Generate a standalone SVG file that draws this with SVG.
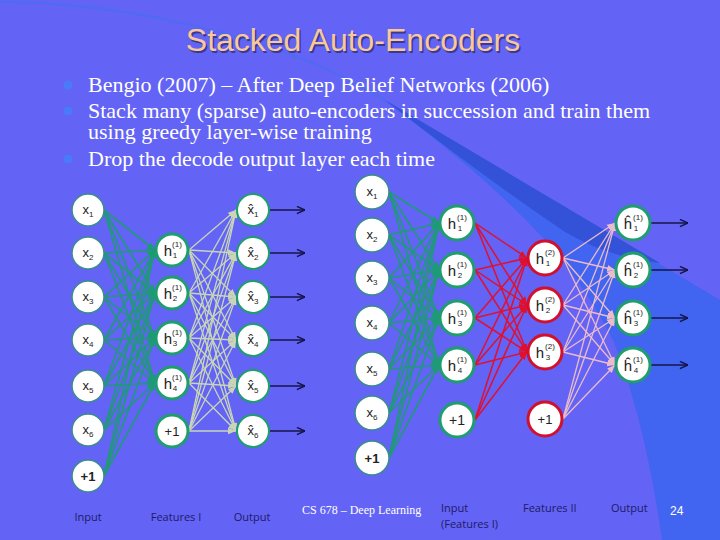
<svg xmlns="http://www.w3.org/2000/svg" width="720" height="540" viewBox="0 0 720 540">
<defs>
<style>
.n{fill:#fff}
.in{stroke:#3a8c8c;stroke-width:1.5}
.hg{stroke:#1e9e6e;stroke-width:3}
.og{stroke:#1e9e6e;stroke-width:2}
.hr{stroke:#d0102c;stroke-width:3}
.t{font-family:"Liberation Sans","Open Sans",sans-serif;fill:#222;text-anchor:middle}
.t1{font-size:13px}
.ts{font-size:8px}
.th{font-size:15px}
.eg line{stroke:#1f9a78;stroke-width:1.6;marker-end:url(#ag)}
.el line{stroke:#c9d6b6;stroke-width:1.3;marker-end:url(#al)}
.er line{stroke:#e01030;stroke-width:1.5;marker-end:url(#ar)}
.ep line{stroke:#ebbccc;stroke-width:1.3;marker-end:url(#ap)}
.eo line{stroke:#141448;stroke-width:1.6;marker-end:url(#ao)}
.bul{font-family:"Liberation Serif","Times New Roman",serif;font-size:22px;fill:#fff}
.cap{font-family:"Open Sans","Liberation Sans",sans-serif;font-size:11px;fill:#1c1c66}
</style>
<marker id="ag" viewBox="0 0 10 10" refX="10" refY="5" markerWidth="8" markerHeight="8" markerUnits="userSpaceOnUse" orient="auto"><path d="M0,1L10,5L0,9z" fill="#1f9a78"/></marker>
<marker id="al" viewBox="0 0 10 10" refX="10" refY="5" markerWidth="8" markerHeight="8" markerUnits="userSpaceOnUse" orient="auto"><path d="M0,1L10,5L0,9z" fill="#c9d6b6"/></marker>
<marker id="ar" viewBox="0 0 10 10" refX="10" refY="5" markerWidth="8" markerHeight="8" markerUnits="userSpaceOnUse" orient="auto"><path d="M0,1L10,5L0,9z" fill="#e01030"/></marker>
<marker id="ap" viewBox="0 0 10 10" refX="10" refY="5" markerWidth="8" markerHeight="8" markerUnits="userSpaceOnUse" orient="auto"><path d="M0,1L10,5L0,9z" fill="#ebbccc"/></marker>
<marker id="ao" viewBox="0 0 10 10" refX="10" refY="5" markerWidth="9" markerHeight="9" markerUnits="userSpaceOnUse" orient="auto"><path d="M1,1L10,5L1,9" fill="none" stroke="#141448" stroke-width="1.6"/></marker>
</defs>

<g id="background">
<rect width="720" height="540" fill="#6363f5"/>
<path d="M380,98 L720,300 L720,540 L662,540 Q645,420 613,340 Q585,285 545,240 Q490,180 400,112 Z" fill="#4165f0"/>
<path d="M385,100 L660,263 Q610,258 565,232 Q485,178 385,100 Z" fill="#3452d8"/>
<path d="M0,2 C120,2 280,35 385,100" fill="none" stroke="#4c6cf2" stroke-width="2"/>
</g>

<g id="title">
<text x="354.5" y="52.5" font-family="Liberation Sans, Arial, sans-serif" font-size="32" fill="#3a3a8a" text-anchor="middle">Stacked Auto-Encoders</text>
<text x="353" y="51" font-family="Liberation Sans, Arial, sans-serif" font-size="32" fill="#f8c89c" text-anchor="middle">Stacked Auto-Encoders</text>
</g>

<g id="bullets">
<circle cx="68" cy="85" r="4.5" fill="#4a7af8"/>
<circle cx="68" cy="111" r="4.5" fill="#4a7af8"/>
<circle cx="68" cy="159" r="4.5" fill="#4a7af8"/>
<text class="bul" x="88" y="92">Bengio (2007) – After Deep Belief Networks (2006)</text>
<text class="bul" x="88" y="118">Stack many (sparse) auto-encoders in succession and train them</text>
<text class="bul" x="88" y="139">using greedy layer-wise training</text>
<text class="bul" x="88" y="166">Drop the decode output layer each time</text>
</g>

<g id="connectors">
<g class="eg">
<line x1="104" y1="210" x2="155" y2="250"/><line x1="104" y1="210" x2="155" y2="293"/><line x1="104" y1="210" x2="155" y2="338"/><line x1="104" y1="210" x2="155" y2="383"/>
<line x1="104" y1="253" x2="155" y2="250"/><line x1="104" y1="253" x2="155" y2="293"/><line x1="104" y1="253" x2="155" y2="338"/><line x1="104" y1="253" x2="155" y2="383"/>
<line x1="104" y1="297" x2="155" y2="250"/><line x1="104" y1="297" x2="155" y2="293"/><line x1="104" y1="297" x2="155" y2="338"/><line x1="104" y1="297" x2="155" y2="383"/>
<line x1="104" y1="340" x2="155" y2="250"/><line x1="104" y1="340" x2="155" y2="293"/><line x1="104" y1="340" x2="155" y2="338"/><line x1="104" y1="340" x2="155" y2="383"/>
<line x1="104" y1="386" x2="155" y2="250"/><line x1="104" y1="386" x2="155" y2="293"/><line x1="104" y1="386" x2="155" y2="338"/><line x1="104" y1="386" x2="155" y2="383"/>
<line x1="104" y1="430" x2="155" y2="250"/><line x1="104" y1="430" x2="155" y2="293"/><line x1="104" y1="430" x2="155" y2="338"/><line x1="104" y1="430" x2="155" y2="383"/>
<line x1="104" y1="476" x2="155" y2="250"/><line x1="104" y1="476" x2="155" y2="293"/><line x1="104" y1="476" x2="155" y2="338"/><line x1="104" y1="476" x2="155" y2="383"/>
</g>
<g class="el">
<line x1="189" y1="250" x2="236" y2="210"/><line x1="189" y1="250" x2="236" y2="253"/><line x1="189" y1="250" x2="236" y2="297"/><line x1="189" y1="250" x2="236" y2="340"/><line x1="189" y1="250" x2="236" y2="386"/><line x1="189" y1="250" x2="236" y2="431"/>
<line x1="189" y1="293" x2="236" y2="210"/><line x1="189" y1="293" x2="236" y2="253"/><line x1="189" y1="293" x2="236" y2="297"/><line x1="189" y1="293" x2="236" y2="340"/><line x1="189" y1="293" x2="236" y2="386"/><line x1="189" y1="293" x2="236" y2="431"/>
<line x1="189" y1="338" x2="236" y2="210"/><line x1="189" y1="338" x2="236" y2="253"/><line x1="189" y1="338" x2="236" y2="297"/><line x1="189" y1="338" x2="236" y2="340"/><line x1="189" y1="338" x2="236" y2="386"/><line x1="189" y1="338" x2="236" y2="431"/>
<line x1="189" y1="383" x2="236" y2="210"/><line x1="189" y1="383" x2="236" y2="253"/><line x1="189" y1="383" x2="236" y2="297"/><line x1="189" y1="383" x2="236" y2="340"/><line x1="189" y1="383" x2="236" y2="386"/><line x1="189" y1="383" x2="236" y2="431"/>
<line x1="189" y1="431" x2="236" y2="210"/><line x1="189" y1="431" x2="236" y2="253"/><line x1="189" y1="431" x2="236" y2="297"/><line x1="189" y1="431" x2="236" y2="340"/><line x1="189" y1="431" x2="236" y2="386"/><line x1="189" y1="431" x2="236" y2="431"/>
</g>
<g class="eo">
<line x1="270" y1="210" x2="305" y2="210"/><line x1="270" y1="253" x2="305" y2="253"/><line x1="270" y1="297" x2="305" y2="297"/><line x1="270" y1="340" x2="305" y2="340"/><line x1="270" y1="386" x2="305" y2="386"/><line x1="270" y1="431" x2="305" y2="431"/>
<line x1="651" y1="223" x2="688" y2="223"/><line x1="651" y1="270" x2="688" y2="270"/><line x1="651" y1="318" x2="688" y2="318"/><line x1="651" y1="365" x2="688" y2="365"/>
</g>
<g class="eg">
<line x1="389" y1="192" x2="439" y2="223"/><line x1="389" y1="192" x2="439" y2="270"/><line x1="389" y1="192" x2="439" y2="318"/><line x1="389" y1="192" x2="439" y2="365"/>
<line x1="389" y1="235" x2="439" y2="223"/><line x1="389" y1="235" x2="439" y2="270"/><line x1="389" y1="235" x2="439" y2="318"/><line x1="389" y1="235" x2="439" y2="365"/>
<line x1="389" y1="278" x2="439" y2="223"/><line x1="389" y1="278" x2="439" y2="270"/><line x1="389" y1="278" x2="439" y2="318"/><line x1="389" y1="278" x2="439" y2="365"/>
<line x1="389" y1="323" x2="439" y2="223"/><line x1="389" y1="323" x2="439" y2="270"/><line x1="389" y1="323" x2="439" y2="318"/><line x1="389" y1="323" x2="439" y2="365"/>
<line x1="389" y1="369" x2="439" y2="223"/><line x1="389" y1="369" x2="439" y2="270"/><line x1="389" y1="369" x2="439" y2="318"/><line x1="389" y1="369" x2="439" y2="365"/>
<line x1="389" y1="413" x2="439" y2="223"/><line x1="389" y1="413" x2="439" y2="270"/><line x1="389" y1="413" x2="439" y2="318"/><line x1="389" y1="413" x2="439" y2="365"/>
<line x1="389" y1="458" x2="439" y2="223"/><line x1="389" y1="458" x2="439" y2="270"/><line x1="389" y1="458" x2="439" y2="318"/><line x1="389" y1="458" x2="439" y2="365"/>
</g>
<g class="er">
<line x1="475" y1="223" x2="527" y2="258"/><line x1="475" y1="223" x2="527" y2="305"/><line x1="475" y1="223" x2="527" y2="352"/>
<line x1="475" y1="270" x2="527" y2="258"/><line x1="475" y1="270" x2="527" y2="305"/><line x1="475" y1="270" x2="527" y2="352"/>
<line x1="475" y1="318" x2="527" y2="258"/><line x1="475" y1="318" x2="527" y2="305"/><line x1="475" y1="318" x2="527" y2="352"/>
<line x1="475" y1="365" x2="527" y2="258"/><line x1="475" y1="365" x2="527" y2="305"/><line x1="475" y1="365" x2="527" y2="352"/>
<line x1="475" y1="420" x2="527" y2="258"/><line x1="475" y1="420" x2="527" y2="305"/><line x1="475" y1="420" x2="527" y2="352"/>
</g>
<g class="ep">
<line x1="563" y1="258" x2="615" y2="223"/><line x1="563" y1="258" x2="615" y2="270"/><line x1="563" y1="258" x2="615" y2="318"/><line x1="563" y1="258" x2="615" y2="365"/>
<line x1="563" y1="305" x2="615" y2="223"/><line x1="563" y1="305" x2="615" y2="270"/><line x1="563" y1="305" x2="615" y2="318"/><line x1="563" y1="305" x2="615" y2="365"/>
<line x1="563" y1="352" x2="615" y2="223"/><line x1="563" y1="352" x2="615" y2="270"/><line x1="563" y1="352" x2="615" y2="318"/><line x1="563" y1="352" x2="615" y2="365"/>
<line x1="563" y1="419" x2="615" y2="223"/><line x1="563" y1="419" x2="615" y2="270"/><line x1="563" y1="419" x2="615" y2="318"/><line x1="563" y1="419" x2="615" y2="365"/>
</g>
</g>

<g id="L-in1"><circle class="n in" cx="88" cy="210" r="16"/><text class="t t1" x="88" y="214">x<tspan class="ts" dy="3">1</tspan></text></g>
<g id="L-in2"><circle class="n in" cx="88" cy="253" r="16"/><text class="t t1" x="88" y="257">x<tspan class="ts" dy="3">2</tspan></text></g>
<g id="L-in3"><circle class="n in" cx="88" cy="297" r="16"/><text class="t t1" x="88" y="301">x<tspan class="ts" dy="3">3</tspan></text></g>
<g id="L-in4"><circle class="n in" cx="88" cy="340" r="16"/><text class="t t1" x="88" y="344">x<tspan class="ts" dy="3">4</tspan></text></g>
<g id="L-in5"><circle class="n in" cx="88" cy="386" r="16"/><text class="t t1" x="88" y="390">x<tspan class="ts" dy="3">5</tspan></text></g>
<g id="L-in6"><circle class="n in" cx="88" cy="430" r="16"/><text class="t t1" x="88" y="434">x<tspan class="ts" dy="3">6</tspan></text></g>
<g id="L-inb"><circle class="n in" cx="88" cy="476" r="16"/><text class="t" x="88" y="481" font-size="13" font-weight="bold">+1</text></g>

<g id="L-h1"><circle class="n hg" cx="172" cy="250" r="16"/><text class="t th" x="168" y="256">h</text><text class="t ts" x="177" y="247">(1)</text><text class="t ts" x="175" y="258">1</text></g>
<g id="L-h2"><circle class="n hg" cx="172" cy="293" r="16"/><text class="t th" x="168" y="299">h</text><text class="t ts" x="177" y="290">(1)</text><text class="t ts" x="175" y="301">2</text></g>
<g id="L-h3"><circle class="n hg" cx="172" cy="338" r="16"/><text class="t th" x="168" y="344">h</text><text class="t ts" x="177" y="335">(1)</text><text class="t ts" x="175" y="346">3</text></g>
<g id="L-h4"><circle class="n hg" cx="172" cy="383" r="16"/><text class="t th" x="168" y="389">h</text><text class="t ts" x="177" y="380">(1)</text><text class="t ts" x="175" y="391">4</text></g>
<g id="L-hb"><circle class="n hg" cx="172" cy="431" r="16"/><text class="t t1" x="172" y="436">+1</text></g>

<g id="L-o1"><circle class="n og" cx="253" cy="210" r="16"/><text class="t t1" x="253" y="214">x̂<tspan class="ts" dy="3">1</tspan></text></g>
<g id="L-o2"><circle class="n og" cx="253" cy="253" r="16"/><text class="t t1" x="253" y="257">x̂<tspan class="ts" dy="3">2</tspan></text></g>
<g id="L-o3"><circle class="n og" cx="253" cy="297" r="16"/><text class="t t1" x="253" y="301">x̂<tspan class="ts" dy="3">3</tspan></text></g>
<g id="L-o4"><circle class="n og" cx="253" cy="340" r="16"/><text class="t t1" x="253" y="344">x̂<tspan class="ts" dy="3">4</tspan></text></g>
<g id="L-o5"><circle class="n og" cx="253" cy="386" r="16"/><text class="t t1" x="253" y="390">x̂<tspan class="ts" dy="3">5</tspan></text></g>
<g id="L-o6"><circle class="n og" cx="253" cy="431" r="16"/><text class="t t1" x="253" y="435">x̂<tspan class="ts" dy="3">6</tspan></text></g>

<g id="R-in1"><circle class="n in" cx="372" cy="192" r="17"/><text class="t t1" x="372" y="196">x<tspan class="ts" dy="3">1</tspan></text></g>
<g id="R-in2"><circle class="n in" cx="372" cy="235" r="17"/><text class="t t1" x="372" y="239">x<tspan class="ts" dy="3">2</tspan></text></g>
<g id="R-in3"><circle class="n in" cx="372" cy="278" r="17"/><text class="t t1" x="372" y="282">x<tspan class="ts" dy="3">3</tspan></text></g>
<g id="R-in4"><circle class="n in" cx="372" cy="323" r="17"/><text class="t t1" x="372" y="327">x<tspan class="ts" dy="3">4</tspan></text></g>
<g id="R-in5"><circle class="n in" cx="372" cy="369" r="17"/><text class="t t1" x="372" y="373">x<tspan class="ts" dy="3">5</tspan></text></g>
<g id="R-in6"><circle class="n in" cx="372" cy="413" r="17"/><text class="t t1" x="372" y="417">x<tspan class="ts" dy="3">6</tspan></text></g>
<g id="R-inb"><circle class="n in" cx="372" cy="458" r="17"/><text class="t" x="372" y="463" font-size="13" font-weight="bold">+1</text></g>

<g id="R-h1"><circle class="n hg" cx="457" cy="223" r="17"/><text class="t th" x="452" y="229">h</text><text class="t ts" x="462" y="220">(1)</text><text class="t ts" x="460" y="231">1</text></g>
<g id="R-h2"><circle class="n hg" cx="457" cy="270" r="17"/><text class="t th" x="452" y="276">h</text><text class="t ts" x="462" y="267">(1)</text><text class="t ts" x="460" y="278">2</text></g>
<g id="R-h3"><circle class="n hg" cx="457" cy="318" r="17"/><text class="t th" x="452" y="324">h</text><text class="t ts" x="462" y="315">(1)</text><text class="t ts" x="460" y="326">3</text></g>
<g id="R-h4"><circle class="n hg" cx="457" cy="365" r="17"/><text class="t th" x="452" y="371">h</text><text class="t ts" x="462" y="362">(1)</text><text class="t ts" x="460" y="373">4</text></g>
<g id="R-hb"><circle class="n hg" cx="457" cy="420" r="17"/><text class="t" x="457" y="425" font-size="14">+1</text></g>

<g id="R-g1"><circle class="n hr" cx="545" cy="258" r="17"/><text class="t th" x="540" y="264">h</text><text class="t ts" x="550" y="255">(2)</text><text class="t ts" x="548" y="266">1</text></g>
<g id="R-g2"><circle class="n hr" cx="545" cy="305" r="17"/><text class="t th" x="540" y="311">h</text><text class="t ts" x="550" y="302">(2)</text><text class="t ts" x="548" y="313">2</text></g>
<g id="R-g3"><circle class="n hr" cx="545" cy="352" r="17"/><text class="t th" x="540" y="358">h</text><text class="t ts" x="550" y="349">(2)</text><text class="t ts" x="548" y="360">3</text></g>
<g id="R-gb"><circle class="n hr" cx="545" cy="419" r="17"/><text class="t" x="545" y="424" font-size="13">+1</text></g>

<g id="R-o1"><circle class="n hg" cx="633" cy="223" r="17"/><text class="t th" x="628" y="229">ĥ</text><text class="t ts" x="638" y="220">(1)</text><text class="t ts" x="636" y="231">1</text></g>
<g id="R-o2"><circle class="n hg" cx="633" cy="270" r="17"/><text class="t th" x="628" y="276">ĥ</text><text class="t ts" x="638" y="267">(1)</text><text class="t ts" x="636" y="278">2</text></g>
<g id="R-o3"><circle class="n hg" cx="633" cy="318" r="17"/><text class="t th" x="628" y="324">ĥ</text><text class="t ts" x="638" y="315">(1)</text><text class="t ts" x="636" y="326">3</text></g>
<g id="R-o4"><circle class="n hg" cx="633" cy="365" r="17"/><text class="t th" x="628" y="371">ĥ</text><text class="t ts" x="638" y="362">(1)</text><text class="t ts" x="636" y="373">4</text></g>

<g id="captions">
<text class="cap" x="88" y="521" text-anchor="middle">Input</text>
<text class="cap" x="176" y="521" text-anchor="middle">Features I</text>
<text class="cap" x="252" y="521" text-anchor="middle">Output</text>
<text class="cap" x="441" y="512">Input</text>
<text class="cap" x="441" y="528">(Features I)</text>
<text class="cap" x="523" y="512">Features II</text>
<text class="cap" x="611" y="512">Output</text>
<text x="302" y="514" font-family="Liberation Serif, Times New Roman, serif" font-size="12" fill="#fff">CS 678 – Deep Learning</text>
<text x="670" y="515" font-family="Liberation Sans, Arial, sans-serif" font-size="12" fill="#fff">24</text>
</g>
</svg>
